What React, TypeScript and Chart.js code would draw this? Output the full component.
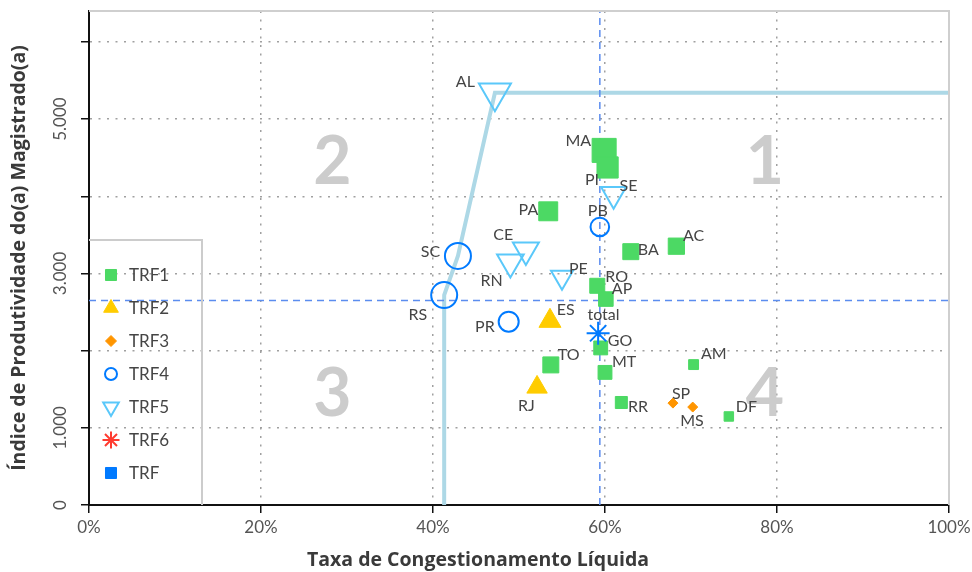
import React, { useEffect, useRef } from 'react';
import { Chart, registerables } from 'chart.js';
import { drawPoint } from 'chart.js/helpers';

Chart.register(...registerables);

const FONT = 'Lato, "Open Sans", sans-serif';
const TITLE_FONT = '"Open Sans", Lato, sans-serif';

// ---- Data (x = Taxa de Congestionamento Líquida %, y = IPM) ----
const TRF1_NAMES = ['MA', 'PI', 'PA', 'AC', 'BA', 'RO', 'AP', 'GO', 'TO', 'MT', 'AM', 'RR', 'DF'];
const TRF1_X = [59.9, 60.3, 53.4, 68.3, 63.0, 59.1, 60.1, 59.5, 53.7, 60.0, 70.3, 61.9, 74.4];
const TRF1_Y = [4594, 4373, 3805, 3353, 3282, 2840, 2668, 2035, 1815, 1718, 1819, 1328, 1147];
const TRF1_SIZE = [17, 15, 13.4, 11.5, 11.3, 10.6, 10.3, 9.8, 11.3, 9.8, 7, 8.5, 6.7];

const TRF2_NAMES = ['ES', 'RJ'];
const TRF2_X = [53.6, 52.1];
const TRF2_Y = [2384, 1526];
const TRF2_SIZE = [12.7, 11.8];

const TRF3_NAMES = ['SP', 'MS'];
const TRF3_X = [67.9, 70.2];
const TRF3_Y = [1320, 1269];
const TRF3_SIZE = [5, 5];

const TRF4_NAMES = ['SC', 'RS', 'PB', 'PR'];
const TRF4_X = [42.9, 41.3, 59.4, 48.8];
const TRF4_Y = [3227, 2720, 3602, 2375];
const TRF4_SIZE = [13, 13, 9.3, 10];

const TRF5_NAMES = ['AL', 'SE', 'CE', 'RN', 'PE'];
const TRF5_X = [47.2, 61.0, 50.8, 49.0, 55.0];
const TRF5_Y = [5340, 4025, 3304, 3146, 2952];
const TRF5_SIZE = [18.5, 14.4, 15, 15.4, 12.7];

const TOTAL_NAMES = ['total'];
const TOTAL_X = [59.2];
const TOTAL_Y = [2225];
const TOTAL_SIZE = [11.5];

// Frontier (RS -> SC -> AL)
const FRONTIER_X = [41.3, 41.3, 42.9, 47.2, 100];
const FRONTIER_Y = [0, 2720, 3227, 5340, 5340];

// Reference lines
const REF_X = 59.4;
const REF_Y = 2650;

const X_MIN = 0;
const X_MAX = 100;
const Y_MIN = 0;
const Y_MAX = 6400;
const X_TICKS = [0, 20, 40, 60, 80, 100];
const Y_TICKS = [0, 1000, 2000, 3000, 4000, 5000, 6000];
const Y_TICK_LABELS = [0, 1000, 3000, 5000];

const X_TITLE = 'Taxa de Congestionamento Líquida';
const Y_TITLE = 'Índice de Produtividade do(a) Magistrado(a)';

const QUADRANT_TEXT = ['1', '2', '3', '4'];
const QUADRANT_X = [78.6, 28.3, 28.3, 78.6];
const QUADRANT_Y = [4430, 4430, 1430, 1430];

const LEGEND_NAMES = ['TRF1', 'TRF2', 'TRF3', 'TRF4', 'TRF5', 'TRF6', 'TRF'];

// label placement: [dx, dy, align]
const LABEL_POS: Record<string, [number, number, CanvasTextAlign]> = {
  AL: [-20, -11, 'right'],
  MA: [-13, -10, 'right'],
  PI: [-8.5, 12, 'right'],
  SE: [6, -8, 'left'],
  PA: [-10, -1, 'right'],
  PB: [-2, -16, 'center'],
  CE: [-12.7, -15, 'right'],
  RN: [-7.7, 19, 'right'],
  PE: [7, -8, 'left'],
  RO: [8, -9, 'left'],
  AP: [6, -10, 'left'],
  BA: [7, -1.5, 'left'],
  AC: [6.5, -10, 'left'],
  SC: [-17.7, -4, 'right'],
  RS: [-17, 20, 'right'],
  PR: [-14, 5, 'right'],
  ES: [6.7, -11, 'left'],
  total: [5.4, -18, 'center'],
  GO: [7, -7, 'left'],
  TO: [7, -10, 'left'],
  MT: [7, -11, 'left'],
  AM: [7.3, -10.7, 'left'],
  RJ: [-10.6, 18.6, 'center'],
  RR: [6.6, 4.6, 'left'],
  SP: [-1, -9.3, 'left'],
  MS: [-0.7, 13.4, 'center'],
  DF: [7, -10, 'left'],
};

const GREEN = '#4cd964';
const YELLOW = '#ffcc00';
const ORANGE = '#ff9500';
const BLUE = '#007aff';
const LIGHTBLUE = '#5ac8fa';
const RED = '#ff3b30';

const LEGEND_STYLES = [
  { pointStyle: 'rect', radius: 7.8, rotation: 0, fill: GREEN, stroke: GREEN, borderWidth: 1 },
  { pointStyle: 'triangle', radius: 8.5, rotation: 0, fill: YELLOW, stroke: YELLOW, borderWidth: 1 },
  { pointStyle: 'rectRot', radius: 5.5, rotation: 0, fill: ORANGE, stroke: ORANGE, borderWidth: 1 },
  { pointStyle: 'circle', radius: 6, rotation: 0, fill: 'rgba(0,0,0,0)', stroke: BLUE, borderWidth: 2 },
  { pointStyle: 'triangle', radius: 9, rotation: 180, fill: 'rgba(0,0,0,0)', stroke: LIGHTBLUE, borderWidth: 2 },
  { pointStyle: 'star', radius: 8.5, rotation: 0, fill: RED, stroke: RED, borderWidth: 2 },
  { pointStyle: 'rect', radius: 7.8, rotation: 0, fill: BLUE, stroke: BLUE, borderWidth: 1 },
];

const pts = (xs: number[], ys: number[]) => xs.map((x, i) => ({ x, y: ys[i] }));
const fmt = (v: number) => String(v).replace(/\B(?=(\d{3})+(?!\d))/g, '.');

const quadrantPlugin = {
  id: 'quadrants',
  beforeDatasetsDraw(chart: any) {
    const { ctx, scales } = chart;
    ctx.save();
    ctx.fillStyle = '#cccccc';
    ctx.font = `bold 66px ${FONT}`;
    ctx.textAlign = 'center';
    ctx.textBaseline = 'middle';
    QUADRANT_TEXT.forEach((t, i) => {
      ctx.fillText(t, scales.x.getPixelForValue(QUADRANT_X[i]), scales.y.getPixelForValue(QUADRANT_Y[i]));
    });
    ctx.restore();
  },
};

const labelPlugin = {
  id: 'pointLabels',
  afterDatasetsDraw(chart: any) {
    const { ctx } = chart;
    ctx.save();
    ctx.font = `16px ${FONT}`;
    ctx.fillStyle = '#454545';
    ctx.textBaseline = 'middle';
    chart.data.datasets.forEach((ds: any, di: number) => {
      if (!ds.names) return;
      const meta = chart.getDatasetMeta(di);
      meta.data.forEach((el: any, i: number) => {
        const name = ds.names[i];
        const pos = LABEL_POS[name] || [6, -8, 'left'];
        ctx.textAlign = pos[2];
        ctx.fillText(name, el.x + pos[0], el.y + pos[1]);
      });
    });
    ctx.restore();
  },
};

const framePlugin = {
  id: 'frameAndLegend',
  afterDraw(chart: any) {
    const { ctx, chartArea } = chart;
    const { left, right, top, bottom } = chartArea;
    ctx.save();
    ctx.strokeStyle = '#cfcfcf';
    ctx.lineWidth = 2;
    ctx.beginPath();
    ctx.moveTo(left, top);
    ctx.lineTo(right, top);
    ctx.lineTo(right, bottom);
    ctx.stroke();

    // x-axis title (centred on the page width as in the original)
    ctx.font = `bold 19.5px ${TITLE_FONT}`;
    ctx.fillStyle = '#3a3a3a';
    ctx.textAlign = 'center';
    ctx.textBaseline = 'middle';
    ctx.fillText(X_TITLE, chart.width / 2 - 8, chart.height - 12);

    const boxTop = bottom - 265;
    const boxRight = left + 113;
    ctx.strokeStyle = '#cccccc';
    ctx.lineWidth = 2;
    ctx.beginPath();
    ctx.moveTo(left, boxTop);
    ctx.lineTo(boxRight, boxTop);
    ctx.lineTo(boxRight, bottom);
    ctx.stroke();

    ctx.font = `17px ${FONT}`;
    ctx.textAlign = 'left';
    ctx.textBaseline = 'middle';
    LEGEND_NAMES.forEach((name, i) => {
      const y = boxTop + 35 + i * 33;
      const st = LEGEND_STYLES[i];
      ctx.fillStyle = st.fill;
      ctx.strokeStyle = st.stroke;
      ctx.lineWidth = st.borderWidth;
      drawPoint(ctx, { pointStyle: st.pointStyle, radius: st.radius, rotation: st.rotation, borderWidth: st.borderWidth } as any, left + 22, y);
      ctx.fillStyle = '#454545';
      ctx.fillText(name, left + 40, y + 1);
    });
    ctx.restore();
  },
};

export default function App() {
  const canvasRef = useRef<HTMLCanvasElement | null>(null);

  useEffect(() => {
    document.body.style.margin = '0';
    const canvas = canvasRef.current;
    if (!canvas) return;

    const markerBase = { showLine: false, order: 1 };
    const gridOpts = {
      color: '#a0a0a0',
      lineWidth: 1.5,
      tickColor: '#111',
      tickWidth: 1.5,
      tickLength: 8,
      tickBorderDash: [],
    };

    const chart = new Chart(canvas, {
      type: 'scatter',
      data: {
        datasets: [
          {
            ...markerBase,
            label: 'total',
            names: TOTAL_NAMES,
            data: pts(TOTAL_X, TOTAL_Y),
            pointStyle: 'star',
            pointRadius: TOTAL_SIZE,
            borderColor: BLUE,
            backgroundColor: BLUE,
            borderWidth: 2,
          },
          {
            ...markerBase,
            label: 'TRF5',
            names: TRF5_NAMES,
            data: pts(TRF5_X, TRF5_Y),
            pointStyle: 'triangle',
            rotation: 180,
            pointRadius: TRF5_SIZE,
            borderColor: LIGHTBLUE,
            backgroundColor: 'rgba(0,0,0,0)',
            borderWidth: 2,
          },
          {
            ...markerBase,
            label: 'TRF4',
            names: TRF4_NAMES,
            data: pts(TRF4_X, TRF4_Y),
            pointStyle: 'circle',
            pointRadius: TRF4_SIZE,
            borderColor: BLUE,
            backgroundColor: 'rgba(0,0,0,0)',
            borderWidth: 2,
          },
          {
            ...markerBase,
            label: 'TRF3',
            names: TRF3_NAMES,
            data: pts(TRF3_X, TRF3_Y),
            pointStyle: 'rectRot',
            pointRadius: TRF3_SIZE,
            borderColor: ORANGE,
            backgroundColor: ORANGE,
            borderWidth: 1,
          },
          {
            ...markerBase,
            label: 'TRF2',
            names: TRF2_NAMES,
            data: pts(TRF2_X, TRF2_Y),
            pointStyle: 'triangle',
            pointRadius: TRF2_SIZE,
            borderColor: YELLOW,
            backgroundColor: YELLOW,
            borderWidth: 1,
          },
          {
            ...markerBase,
            label: 'TRF1',
            names: TRF1_NAMES,
            data: pts(TRF1_X, TRF1_Y),
            pointStyle: 'rect',
            pointRadius: TRF1_SIZE,
            borderColor: GREEN,
            backgroundColor: GREEN,
            borderWidth: 1,
          },
          {
            label: 'refX',
            data: [{ x: REF_X, y: Y_MIN }, { x: REF_X, y: Y_MAX }],
            showLine: true,
            pointRadius: 0,
            borderColor: '#5b8def',
            borderWidth: 1.5,
            borderDash: [7, 5],
            order: 5,
          },
          {
            label: 'refY',
            data: [{ x: X_MIN, y: REF_Y }, { x: X_MAX, y: REF_Y }],
            showLine: true,
            pointRadius: 0,
            borderColor: '#5b8def',
            borderWidth: 1.5,
            borderDash: [7, 5],
            order: 5,
          },
          {
            label: 'frontier',
            data: pts(FRONTIER_X, FRONTIER_Y),
            showLine: true,
            pointRadius: 0,
            borderColor: '#add8e6',
            borderWidth: 4,
            tension: 0,
            order: 6,
          },
        ] as any,
      },
      options: {
        animation: false,
        responsive: false,
        events: [],
        layout: { autoPadding: false, padding: { top: 11, right: 23, left: 0, bottom: 0 } },
        plugins: {
          legend: { display: false },
          tooltip: { enabled: false },
        },
        scales: {
          x: {
            type: 'linear',
            min: X_MIN,
            max: X_MAX,
            afterFit: (scale: any) => {
              scale.height = 67;
              scale.paddingLeft = 0;
              scale.paddingRight = 0;
            },
            afterBuildTicks: (scale: any) => {
              scale.ticks = X_TICKS.map((v) => ({ value: v }));
            },
            grid: gridOpts,
            border: { display: true, color: '#111', width: 2, dash: [2, 6.5] },
            ticks: {
              padding: 4,
              color: '#555',
              font: { family: FONT, size: 17 },
              callback: (v: any) => `${v}%`,
            },
            title: { display: false, text: X_TITLE },
          },
          y: {
            type: 'linear',
            min: Y_MIN,
            max: Y_MAX,
            afterFit: (scale: any) => {
              scale.width = 89;
              scale.paddingTop = 0;
              scale.paddingBottom = 0;
            },
            afterBuildTicks: (scale: any) => {
              scale.ticks = Y_TICKS.map((v) => ({ value: v }));
            },
            grid: gridOpts,
            border: { display: true, color: '#111', width: 2, dash: [2, 6.5] },
            ticks: {
              padding: -1,
              color: '#555',
              font: { family: FONT, size: 17 },
              autoSkip: false,
              minRotation: 90,
              maxRotation: 90,
              crossAlign: 'center',
              callback: (v: any) => (Y_TICK_LABELS.includes(Number(v)) ? fmt(Number(v)) : ''),
            },
            title: {
              display: true,
              text: Y_TITLE,
              color: '#3a3a3a',
              font: { family: TITLE_FONT, size: 19.5, weight: 'bold' },
              padding: { top: 8, bottom: 0 },
            },
          },
        },
      } as any,
      plugins: [quadrantPlugin, labelPlugin, framePlugin],
    });

    return () => chart.destroy();
  }, []);

  return (
    <div style={{ width: 972, height: 572 }}>
      <canvas ref={canvasRef} width={972} height={572} style={{ display: 'block' }} />
    </div>
  );
}
